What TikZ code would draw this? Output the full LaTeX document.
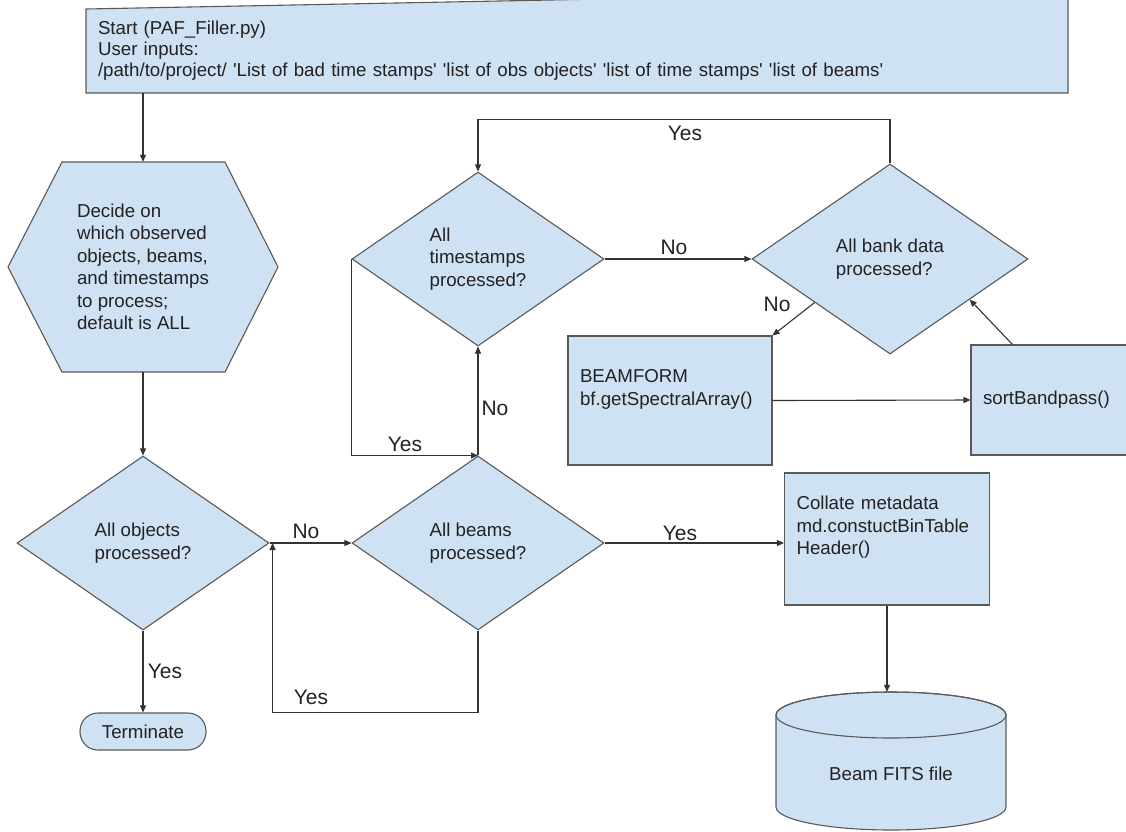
\documentclass[tikz,border=0pt]{standalone}
\usepackage{fontspec}
\setmainfont{Liberation Sans}
\usetikzlibrary{shapes.geometric,arrows.meta,calc}
\definecolor{boxfill}{HTML}{CFE2F3}
\definecolor{boxline}{HTML}{595959}
\definecolor{linec}{HTML}{333333}
\definecolor{txtc}{HTML}{222222}
\newcommand{\sq}{\textquotesingle}
\begin{document}
\begin{tikzpicture}[x=1pt,y=-1pt,
  shapebox/.style={fill=boxfill, draw=boxline, line width=1.1pt},
  maintext/.style={font=\fontsize{18.7}{22.5}\selectfont, text=txtc},
  decision/.style={shape=diamond, shapebox, maintext, align=left, inner sep=0pt, minimum width=252pt, minimum height=174pt},
  procbox/.style={shape=rectangle, shapebox, maintext, align=left, inner xsep=12pt, inner ysep=0pt},
  arr/.style={draw=linec, line width=1.1pt, -{Triangle[length=7pt,width=6pt]}},
  lbl/.style={font=\fontsize{21}{25}\selectfont, text=txtc, inner sep=0pt}
]
\useasboundingbox (0,0) rectangle (1126,831);
\clip (0,0) rectangle (1126,831);

% start box (slanted top edge as in the reference)
\path[shapebox] (86,9) -- (1068,-10) -- (1068,93) -- (86,93) -- cycle;
\node[shape=rectangle, maintext, align=left, inner xsep=12pt, inner ysep=0pt,
      minimum width=982pt, minimum height=84pt, text width=958pt,
      font=\fontsize{18.7}{21}\selectfont] (start) at (577,51)
  {Start (PAF\_Filler.py)\\User inputs:\\/path/to/project/ \sq List of bad time stamps\sq\ \sq list of obs objects\sq\ \sq list of time stamps\sq\ \sq list of beams\sq};

% hexagon
\path[shapebox] (62,162) -- (225,162) -- (278,267) -- (225,372) -- (62,372) -- (8,267) -- cycle;
\node[shape=rectangle, maintext, align=left, inner sep=0pt, minimum width=270pt, minimum height=210pt] (decide) at (143,267)
  {Decide on\\which observed\\objects, beams,\\and timestamps\\to process;\\default is ALL};

% decisions
\node[decision] (objects) at (143,543) {All objects\\processed?};
\node[decision] (beams) at (478,543) {All beams\\processed?};
\node[decision] (ts) at (478,259) {All\\timestamps\\processed?};
\node[decision, minimum width=276pt, minimum height=190pt] (bank) at (890,259) {All bank data\\processed?};

% process boxes
\node[procbox, minimum width=204pt, minimum height=129pt, text width=180pt] (beamform) at (670,400.5)
  {\strut BEAMFORM\\bf.getSpectralArray()\\\strut};
\node[procbox, minimum width=169pt, minimum height=110pt, text width=145pt] (sort) at (1055.5,400)
  {sortBandpass()};
\node[procbox, minimum width=205pt, minimum height=132pt, text width=181pt] (collate) at (887,539)
  {\strut Collate metadata\\md.constuctBinTable\\Header()\\\strut};

% terminate
\node[shape=rectangle, shapebox, maintext, rounded corners=18pt, minimum width=126pt, minimum height=37pt, inner sep=0pt] (term) at (143,731.5) {Terminate};

% cylinder
\path[shapebox] (776,715) -- (776,807) arc[start angle=180, end angle=360, x radius=115pt, y radius=23pt]
  -- (1006,715) arc[start angle=0, end angle=180, x radius=115pt, y radius=23pt] -- cycle;
\draw[draw=boxline, line width=1.1pt] (891,715) ellipse [x radius=115pt, y radius=23pt];
\node[shape=rectangle, minimum width=230pt, minimum height=138pt, inner sep=0pt] (fits) at (891,761) {};
\node[maintext, inner sep=0pt] (fitstext) at (891,774) {Beam FITS file};

% connectors
\draw[arr] (start.south -| decide.north) -- (decide.north);
\draw[arr] (decide.south) -- (objects.north);
\draw[arr] (objects.east) -- (beams.west);
\draw[arr] (objects.south) -- (term.north);
\draw[arr] (beams.south) -- ++(0,82) -| ([xshift=3pt]objects.east);
\draw[arr] (beams.north) -- (ts.south);
\draw[arr] (ts.west) |- (beams.north);
\draw[arr] (ts.east) -- (ts.east -| bank.west);
\draw[arr] (bank.north) -- ++(0,-44) -| (ts.north);
\draw[arr] (bank.210) -- (beamform.north east);
\draw[arr] (beamform.east) -- (sort.west);
\draw[arr] ([xshift=42pt]sort.north west) -- (bank.-27);
\draw[arr] (beams.east) -- (beams.east -| collate.west);
\draw[arr] (collate.south) -- (collate.south |- fits.north);

% labels
\node[lbl] (l1) at (306,531) {No};
\node[lbl] (l2) at (165,671) {Yes};
\node[lbl] (l3) at (311,697) {Yes};
\node[lbl] (l4) at (405,444) {Yes};
\node[lbl] (l5) at (495,408) {No};
\node[lbl] (l6) at (674,247) {No};
\node[lbl] (l7) at (685,133) {Yes};
\node[lbl] (l8) at (777,304) {No};
\node[lbl] (l9) at (680,533) {Yes};
\end{tikzpicture}
\end{document}
